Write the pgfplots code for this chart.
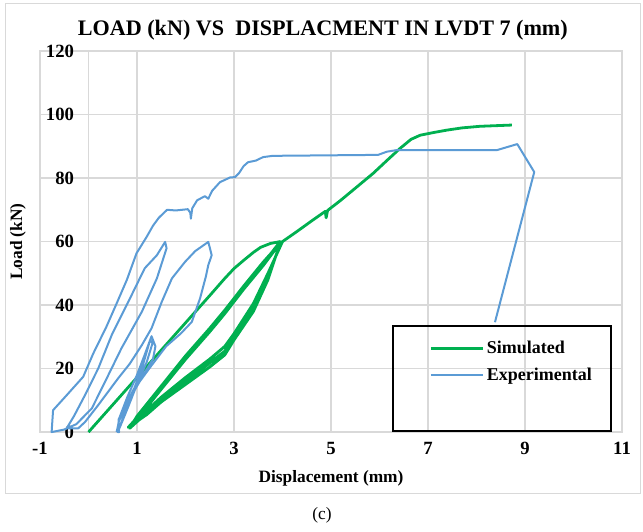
\documentclass[border=0pt]{standalone}
\usepackage{fontspec}
\setmainfont{Liberation Serif}
\usepackage{pgfplots}
\pgfplotsset{compat=1.18}
\definecolor{simgreen}{HTML}{00B050}
\definecolor{expblue}{HTML}{5B9BD5}
\definecolor{gridgray}{HTML}{D9D9D9}

\begin{document}
\begin{tikzpicture}
\begin{axis}[
  scale only axis,
  width=436.5pt, height=285.75pt,
  xmin=-1, xmax=11, ymin=0, ymax=120,
  xtick={-1,1,...,11}, ytick={0,20,...,120},
  extra x ticks={0}, extra x tick labels={},
  extra x tick style={grid=major},
  grid=major,
  grid style={gridgray, line width=0.9pt},
  axis line style={gridgray, line width=0.9pt},
  major tick length=0pt,
  clip=false,
  /pgf/number format/assume math mode=true,
  tick label style={font=\bfseries\fontsize{14}{14}\selectfont},
  yticklabel style={xshift=29pt},
  xticklabel style={yshift=-4pt},
  xlabel={Displacement (mm)},
  ylabel={Load (kN)},
  label style={font=\bfseries\fontsize{13}{13}\selectfont},
  xlabel style={at={(rel axis cs:0.5,-0.121)}, anchor=center},
  ylabel style={at={(rel axis cs:-0.038,0.5)}, anchor=center},
  legend cell align=left,
  legend image code/.code={\draw[#1] (0pt,0pt) -- (39pt,0pt);},
  legend style={draw=none, fill=none, at={(axis cs:6.94,30.3)}, anchor=north west,
    font=\bfseries\fontsize{13.5}{13.5}\selectfont, row sep=5pt,
    nodes={inner sep=2pt}},
]

% simulated: first loading, three unload/reload cycles, then on to the peak
\addplot[simgreen, line width=2.1pt, line join=round] coordinates {
 (0,0) (0.5,8.6) (1.0,17.2) (1.5,25.8) (2.0,34.4) (2.5,43) (2.81,48.4) (3.0,51.5)
 (3.2,54.1) (3.4,56.6) (3.55,58.2) (3.75,59.4) (3.95,60)
 (3.6,53) (3.2,45.5) (2.81,37.9) (2.5,32.2) (2.0,23.5) (1.5,14) (1.0,4.5) (0.82,1.5)
 (1.2,5.5) (1.5,9.5) (2.0,15) (2.5,20.5) (2.81,24.3) (3.0,29) (3.4,38) (3.7,48) (3.95,59.5)
 (3.6,52.4) (3.2,45) (2.81,37.3) (2.5,31.6) (2.0,22.9) (1.5,13.5) (1.0,4) (0.85,1.2)
 (1.2,6) (1.5,10.3) (2.0,16) (2.5,21.8) (2.81,25.5) (3.0,30) (3.4,39) (3.7,49) (3.97,59.8)
 (3.6,53.5) (3.2,46) (2.81,38.4) (2.5,32.7) (2.0,24) (1.5,14.5) (1.0,5) (0.88,2)
 (1.2,6.8) (1.5,11) (2.0,17.2) (2.5,23) (2.81,27) (3.0,31) (3.4,40.5) (3.7,50) (4.0,60)
 (4.3,63.2) (4.6,66.5) (4.88,69.5) (4.9,67.5) (4.93,69.8) (5.2,73) (5.5,76.8) (5.87,81.5)
 (6.15,85.5) (6.42,89.3) (6.65,92.2) (6.84,93.5) (7.1,94.3) (7.39,95.1) (7.7,95.8)
 (8.07,96.3) (8.4,96.5) (8.73,96.7)
};
\addlegendentry{Simulated}

% experimental: cycles to 30 and 60 kN, then the envelope to failure
\addplot[expblue, line width=1.5pt, line join=round] coordinates {
 (0.58,0) (0.65,5) (0.8,11) (1.0,18) (1.15,24) (1.3,30.2) (1.38,27) (1.33,23) (1.13,18)
 (0.89,11.5) (0.72,5) (0.61,0)
 (0.63,0) (0.62,4) (0.75,8) (0.95,14) (1.12,21) (1.27,29) (1.32,28) (1.2,22) (1.0,15)
 (0.82,8) (0.66,2) (0.6,0)
 (0.62,3.2) (0.82,10) (1.06,16) (1.3,21) (1.6,27) (1.9,31) (2.13,34.7) (2.3,42.1)
 (2.42,49) (2.47,52.6) (2.54,55.7) (2.47,59.9) (2.2,57) (1.99,53.6) (1.72,48.4)
 (1.51,41) (1.3,32.7) (1.1,27.4) (0.85,21.5) (0.61,16.9) (0.2,8.5) (-0.07,3.2)
 (-0.21,1.2) (-0.45,1.2) (-0.3,5) (-0.07,11.7) (0.2,20) (0.48,30.6) (0.82,41)
 (1.16,51.6) (1.41,55.7) (1.58,59.9) (1.61,57.9) (1.41,48.4) (1.10,37.9) (0.68,26.4)
 (0.34,15.8) (0.07,7.5) (-0.25,2.5) (-0.5,0.8) (-0.76,0)
 (-0.73,6.9) (-0.48,11.1) (-0.11,17.4) (0.1,24.8) (0.37,33.2) (0.58,40.5) (0.79,47.9)
 (0.99,56.3) (1.2,61.5) (1.33,65) (1.45,67.5) (1.62,70) (1.8,69.8) (2.05,70.2)
 (2.1,69) (2.11,67.2) (2.14,70.5) (2.24,73) (2.4,74.3) (2.47,73.5) (2.55,76)
 (2.71,78.7) (2.92,80.2) (3.02,80.3) (3.1,81.5) (3.2,83.8) (3.29,85) (3.45,85.5)
 (3.6,86.6) (3.8,87) (5.97,87.3) (6.15,88.3) (6.35,88.8) (8.42,88.8) (8.84,90.7)
 (9.19,81.9) (8.38,34.6)
};
\addlegendentry{Experimental}

% legend frame, title, chart border, caption
\draw[black, line width=1pt] (axis cs:6.28,33.4) rectangle (axis cs:10.77,0.3);
\node[font=\bfseries\fontsize{16.6}{16.6}\selectfont] at (rel axis cs:0.486,1.055)
  {LOAD (kN) VS\ \ DISPLACMENT IN LVDT 7 (mm)};
\draw[gridgray, line width=0.8pt] (rel axis cs:-0.06,-0.16) rectangle (rel axis cs:1.031,1.126);
\node[font=\fontsize{13}{13}\selectfont] at (rel axis cs:0.4845,-0.218) {(c)};
\path (rel axis cs:-0.0687,-0.26) rectangle (rel axis cs:1.036,1.134);
\end{axis}
\end{tikzpicture}
\end{document}
